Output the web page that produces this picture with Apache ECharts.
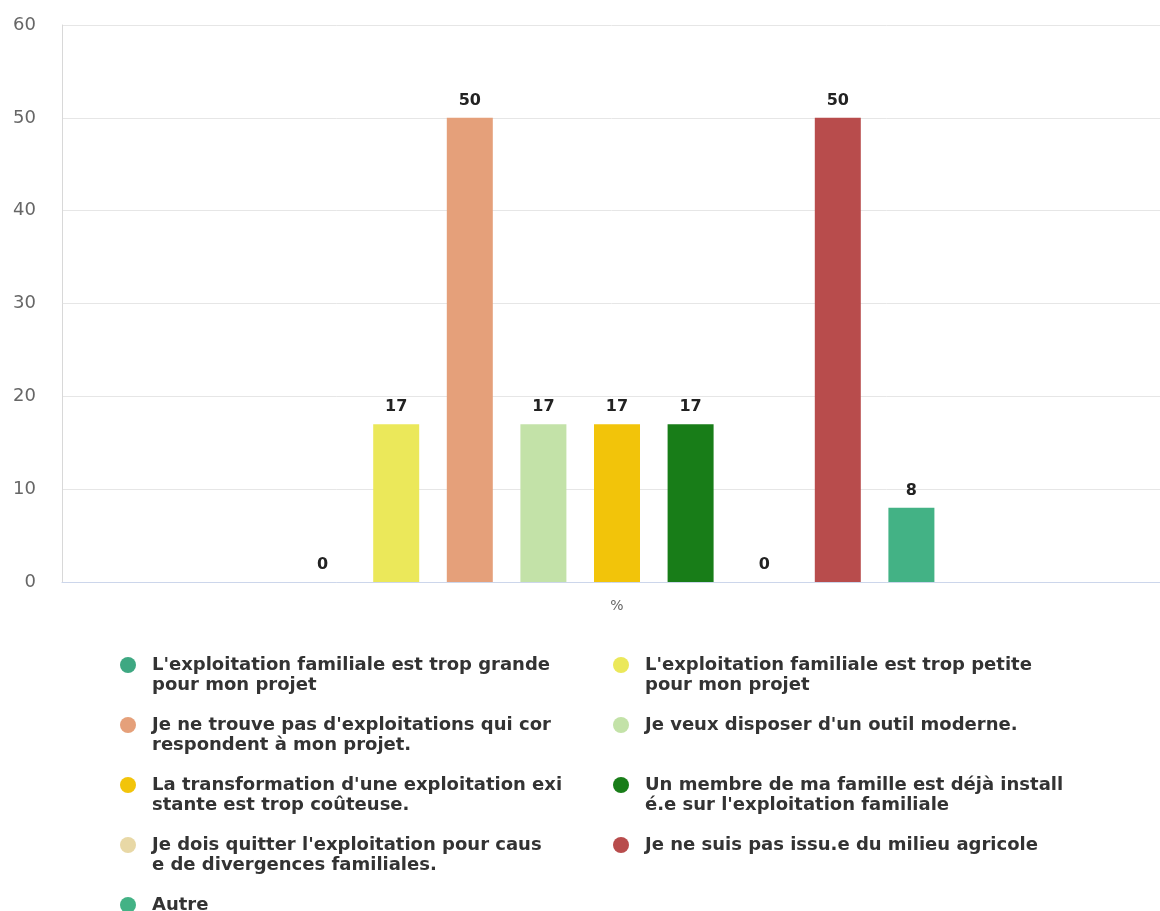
<!DOCTYPE html>
<html>
<head>
<meta charset="utf-8">
<script src="https://cdn.jsdelivr.net/npm/echarts@6/dist/echarts.min.js"></script>
<style>
html,body{margin:0;padding:0;background:#fff;}
#chart{width:1160px;height:911px;}
</style>
</head>
<body>
<div id="chart"></div>
<script>
const categories = ['%'];
const seriesNames = [
  "L'exploitation familiale est trop grande pour mon projet",
  "L'exploitation familiale est trop petite pour mon projet",
  "Je ne trouve pas d'exploitations qui correspondent à mon projet.",
  "Je veux disposer d'un outil moderne.",
  "La transformation d'une exploitation existante est trop coûteuse.",
  "Un membre de ma famille est déjà installé.e sur l'exploitation familiale",
  "Je dois quitter l'exploitation pour cause de divergences familiales.",
  "Je ne suis pas issu.e du milieu agricole",
  "Autre"
];
const legendLabels = [
  "L'exploitation familiale est trop grande\npour mon projet",
  "L'exploitation familiale est trop petite\npour mon projet",
  "Je ne trouve pas d'exploitations qui cor\nrespondent à mon projet.",
  "Je veux disposer d'un outil moderne.",
  "La transformation d'une exploitation exi\nstante est trop coûteuse.",
  "Un membre de ma famille est déjà install\né.e sur l'exploitation familiale",
  "Je dois quitter l'exploitation pour caus\ne de divergences familiales.",
  "Je ne suis pas issu.e du milieu agricole",
  "Autre"
];
const seriesValues = [0, 17, 50, 17, 17, 17, 0, 50, 8];
const seriesColors = ['#3ea882', '#ebe85a', '#e5a07a', '#c3e2a8', '#f2c40a', '#187d18', '#e8d8a6', '#b84c4c', '#43b285'];
const yMin = 0, yMax = 60, yInterval = 10;

const LH = 20;
// pad each legend label to three lines so the marker sits on the first line
const labelMap = {};
seriesNames.forEach((n, i) => {
  const lines = legendLabels[i].split('\n');
  labelMap[n] = lines.length > 1 ? '\n' + legendLabels[i] : '\n' + legendLabels[i] + '\n';
});

const col1 = [0, 2, 4, 6, 8].map(i => ({ name: seriesNames[i] }));
const col2 = [1, 3, 5, 7].map(i => ({ name: seriesNames[i] }));

const legendBase = {
  orient: 'vertical',
  top: 635,
  height: 400,
  padding: 0,
  itemGap: 0,
  icon: 'circle',
  itemWidth: 38,
  itemHeight: 16,
  selectedMode: false,
  formatter: name => labelMap[name],
  textStyle: {
    fontFamily: 'DejaVu Sans',
    fontSize: 18,
    fontWeight: 'bold',
    color: '#333333',
    lineHeight: LH,
    backgroundColor: 'rgba(255,255,255,0)'
  }
};

const chart = echarts.init(document.getElementById('chart'), null, { renderer: 'canvas' });
chart.setOption({
  animation: false,
  backgroundColor: '#ffffff',
  grid: { left: 62, width: 1110, top: 25, bottom: 329, containLabel: false, outerBoundsMode: 'none' },
  legend: [
    Object.assign({}, legendBase, { left: 120, data: col1 }),
    Object.assign({}, legendBase, { left: 613, data: col2 })
  ],
  xAxis: {
    type: 'category',
    data: categories,
    axisTick: { show: false },
    axisLine: { lineStyle: { color: '#ccd6eb', width: 1 } },
    axisLabel: { color: '#666666', fontSize: 14, fontFamily: 'DejaVu Sans', margin: 17 }
  },
  yAxis: {
    type: 'value',
    min: yMin, max: yMax, interval: yInterval,
    axisLine: { show: true, lineStyle: { color: '#d8d8d8' } },
    axisTick: { show: false },
    splitLine: { lineStyle: { color: '#e6e6e6' } },
    axisLabel: { color: '#666666', fontSize: 18, fontFamily: 'DejaVu Sans', margin: 26 }
  },
  series: seriesNames.map((n, i) => ({
    type: 'bar',
    name: n,
    data: [seriesValues[i]],
    barWidth: 46,
    barGap: '60%',
    itemStyle: { color: seriesColors[i] },
    label: {
      show: true,
      position: 'top',
      distance: 9,
      color: '#222222',
      fontFamily: 'DejaVu Sans',
      fontWeight: 'bold',
      fontSize: 16
    }
  }))
});
</script>
</body>
</html>
